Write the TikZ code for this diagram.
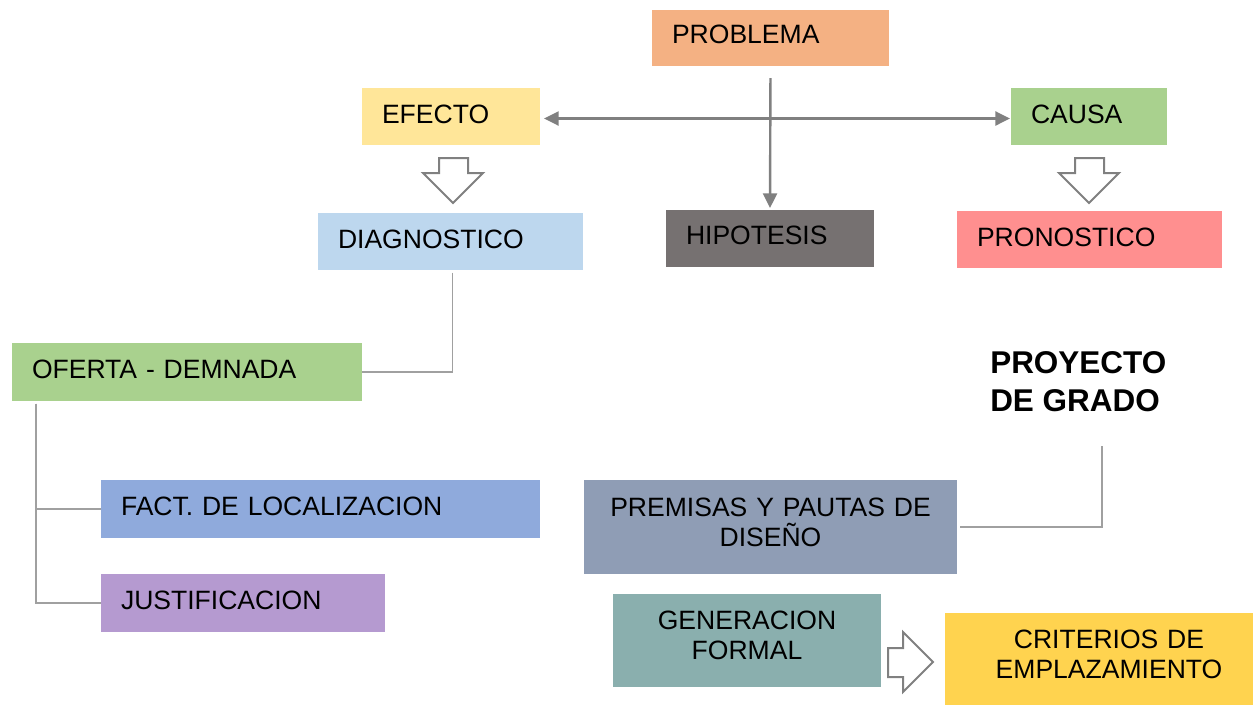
\documentclass[tikz,border=0pt]{standalone}
\usepackage{fontspec}
\setmainfont{Liberation Sans}
\usetikzlibrary{arrows.meta}
\definecolor{cprob}{HTML}{F4B183}
\definecolor{cefe}{HTML}{FFE699}
\definecolor{cgreen}{HTML}{A9D18E}
\definecolor{cdiag}{HTML}{BDD7EE}
\definecolor{chip}{HTML}{767171}
\definecolor{cpron}{HTML}{FF8F8F}
\definecolor{cfact}{HTML}{8FAADC}
\definecolor{cjust}{HTML}{B59AD0}
\definecolor{cprem}{HTML}{8F9DB5}
\definecolor{cgen}{HTML}{8AAFAE}
\definecolor{ccrit}{HTML}{FFD34F}
\definecolor{carr}{HTML}{808080}
\definecolor{cline}{HTML}{A0A0A0}
\tikzset{
  boxbase/.style={rectangle, anchor=north west, draw=none, inner ysep=0pt, outer sep=0pt,
    font=\fontsize{19.9pt}{22.5pt}\selectfont, text=black},
  lbox/.style={boxbase, inner xsep=15pt, align=left, text height=26.25pt, text depth=16.5pt},
  lboxt/.style={boxbase, inner xsep=15pt, align=left, text height=26.25pt, text depth=17.25pt},
  cbox/.style={boxbase, inner xsep=0pt, align=center},
  garrow/.style={draw=carr, line width=1.8pt, -{Triangle[length=11pt,width=10.5pt]}},
  gdarrow/.style={draw=carr, line width=1.8pt, {Triangle[length=11pt,width=10.5pt]}-{Triangle[length=11pt,width=10.5pt]}},
  thinline/.style={draw=cline, line width=1.1pt},
  blockarrow/.style={draw=carr, line width=1.5pt, fill=white, line join=miter}
}
\begin{document}
\begin{tikzpicture}[x=0.75pt,y=-0.75pt]
\useasboundingbox (0,0) rectangle (1253,704);

% boxes
\node[boxbase, fill=cprob, inner xsep=15pt, align=left, text width=147.75pt, text height=24.75pt, text depth=17.25pt] (prob) at (652,10) {PROBLEMA};
\node[lbox, fill=cefe, text width=103.5pt] (efe) at (362,88) {EFECTO};
\node[lbox, fill=cgreen, text width=87pt] (cau) at (1011,88) {CAUSA};
\node[lbox, fill=cdiag, text width=168.75pt] (diag) at (318,213) {DIAGNOSTICO};
\node[boxbase, fill=chip, inner xsep=15pt, align=left, text width=126pt, text height=25.5pt, text depth=17.25pt] (hip) at (666,210) {HIPOTESIS};
\node[lbox, fill=cpron, text width=168.75pt] (pron) at (957,211) {PRONOSTICO};
\node[lboxt, fill=cgreen, text width=232.5pt] (ofe) at (12,343) {OFERTA - DEMNADA};
\node[lboxt, fill=cfact, text width=299.25pt] (fact) at (101,480) {FACT. DE LOCALIZACION};
\node[lboxt, fill=cjust, text width=183pt] (just) at (101,574) {JUSTIFICACION};
\node[cbox, fill=cprem, text width=279.75pt, text height=27pt, text depth=43.5pt] (prem) at (584,480) {PREMISAS Y PAUTAS DE\\DISEÑO};
\node[cbox, fill=cgen, text width=201pt, text height=26.25pt, text depth=43.5pt] (gen) at (613,594) {GENERACION\\FORMAL};
\node[cbox, fill=ccrit, text width=246pt, text height=26.25pt, text depth=44pt] (crit) at (945,613) {CRITERIOS DE\\EMPLAZAMIENTO};
\node[anchor=base west, inner sep=0pt, align=left, font=\fontsize{23.6pt}{28.5pt}\selectfont\bfseries] (proy) at (990,411) {PROYECTO\\DE GRADO};
\coordinate (proyend) at (1102,446);

% gray arrows
\draw[garrow, shorten <=9pt, shorten >=1.5pt] (prob.south) -- (hip.north);
\draw[gdarrow, shorten <=3pt, shorten >=0.75pt] ([yshift=-1.5pt]efe.east) -- ([yshift=-1.5pt]cau.west);

% thin connectors
\draw[thinline] ([xshift=1.5pt,yshift=-2pt]diag.south) |- (ofe.east);
\draw[thinline] ([xshift=18pt,yshift=-2pt]ofe.south west) |- (fact.west);
\draw[thinline] ([xshift=18pt,yshift=-2pt]ofe.south west) |- (just.west);
\draw[thinline] (proyend) |- ([xshift=2pt]prem.east);

% block arrows
\coordinate (ea) at (453,158);
\draw[blockarrow] (ea) ++(-14,0) -- ++(29,0) -- ++(0,15) -- ++(15,0) -- (453,203) -- (423,173) -- (439,173) -- cycle;
\coordinate (ca) at (1089,158);
\draw[blockarrow] (ca) ++(-14,0) -- ++(29,0) -- ++(0,15) -- ++(15,0) -- (1089,203) -- (1059,173) -- (1075,173) -- cycle;
\coordinate (ga) at (888,648);
\draw[blockarrow] (ga) -- (903,648) -- (903,632) -- (933,662) -- (903,692) -- (903,677) -- (888,677) -- cycle;
\end{tikzpicture}
\end{document}
